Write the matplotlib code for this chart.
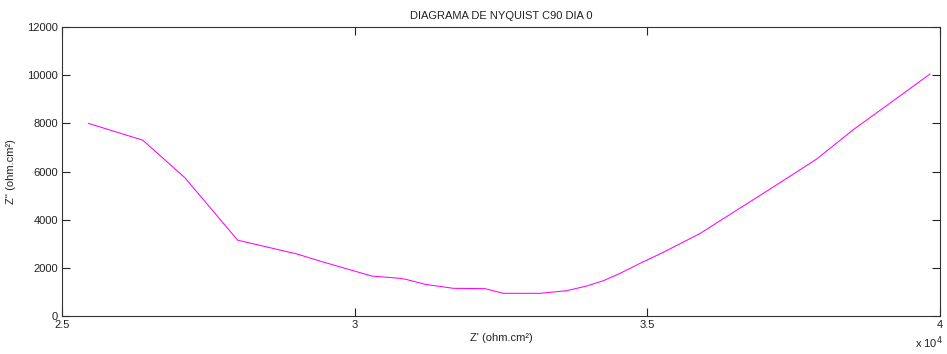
import matplotlib
matplotlib.use("Agg")
import matplotlib.pyplot as plt

plt.rcParams['font.family'] = ['Liberation Sans', 'DejaVu Sans']

# Z' (ohm.cm2) and Z'' (ohm.cm2)
z_real = [25450, 26380, 27100, 28000, 29015, 29408, 30291, 30775, 30880,
          31202, 31686, 32227, 32540, 33167, 33623, 33964, 34249, 34534,
          34875, 35273, 35906, 36532, 37160, 37894, 38520, 39204, 39830]
z_imag = [8000, 7300, 5740, 3150, 2575, 2280, 1660, 1565, 1520,
          1316, 1150, 1136, 942, 942, 1052, 1246, 1466, 1772,
          2187, 2645, 3434, 4402, 5369, 6520, 7740, 8940, 10050]

xticks = [25000, 30000, 35000, 40000]
xtick_labels = ['2.5', '3', '3.5', '4']
yticks = [0, 2000, 4000, 6000, 8000, 10000, 12000]

fig = plt.figure(figsize=(9.47, 3.54), dpi=100)
ax = fig.add_axes([0.0655, 0.1073, 0.9271, 0.8164])

ax.plot(z_real, z_imag, color='#ff00ff', lw=0.75)

ax.set_xlim(25000, 40000)
ax.set_ylim(0, 12000)
ax.set_xticks(xticks)
ax.set_xticklabels(xtick_labels)
ax.set_yticks(yticks)
ax.tick_params(direction='in', length=5.5, width=0.8, labelsize=8, pad=3,
               top=True, right=True, colors='#222222')
for s in ax.spines.values():
    s.set_color('#333333')
    s.set_linewidth(0.8)

ax.set_title('DIAGRAMA DE NYQUIST C90 DIA 0', fontsize=8, pad=6, color='#222222')
ax.set_xlabel("Z' (ohm.cm²)", fontsize=8, labelpad=2, color='#222222')
ax.set_ylabel("Z'' (ohm.cm²)", fontsize=8, labelpad=8, color='#222222')
fig.text(0.966, 0.018, r'x 10$^4$', fontsize=8, color='#222222')

plt.savefig('out.png', dpi=100)
